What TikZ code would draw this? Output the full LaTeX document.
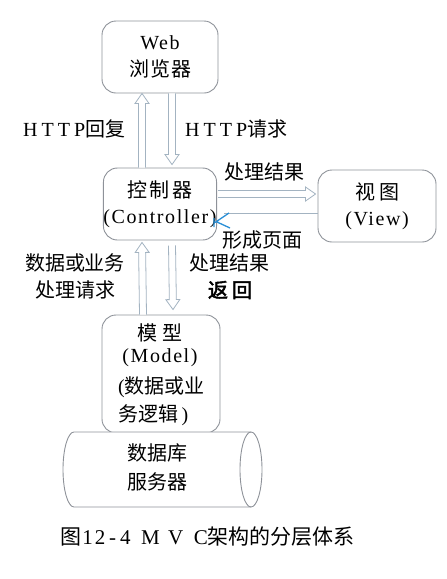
\documentclass[tikz,border=0pt]{standalone}
\usepackage{fontspec}
\setmainfont{Liberation Serif}
\newfontfamily\lat[LetterSpace=8]{Liberation Serif}
\newfontfamily\cjk{Noto Sans CJK SC}
\newfontfamily\cjkb[FakeBold=2.5]{Noto Sans CJK SC}
\usetikzlibrary{calc}
\definecolor{boxgray}{HTML}{8E9299}
\definecolor{arrgray}{HTML}{A3B3C1}
\definecolor{kblue}{HTML}{2A8FD6}
\newcommand\hw[1]{\makebox[12.6pt]{#1}}
\tikzset{
  box/.style={draw=boxgray, rounded corners=14pt, line width=0.9pt, align=center, inner sep=0pt,
    font=\fontsize{20}{26.5}\selectfont},
  lbl/.style={font=\fontsize{20}{27}\selectfont, inner sep=0pt, align=center},
  clbl/.style={font=\fontsize{20}{27}\selectfont\cjk, inner sep=0pt, align=center},
  harrow/.style={draw=arrgray, line width=0.8pt, fill=white,
    to path={let \p1=(\tikztostart), \p2=(\tikztotarget),
      \n1={atan2(\y2-\y1,\x2-\x1)}, \n2={veclen(\x2-\x1,\y2-\y1)} in
      ([shift={(\p1)},rotate=\n1]0pt,3.5pt) -- ([shift={(\p1)},rotate=\n1]{\n2-10pt},3.5pt)
      -- ([shift={(\p1)},rotate=\n1]{\n2-10pt},7pt) -- (\p2)
      -- ([shift={(\p1)},rotate=\n1]{\n2-10pt},-7pt) -- ([shift={(\p1)},rotate=\n1]{\n2-10pt},-3.5pt)
      -- ([shift={(\p1)},rotate=\n1]0pt,-3.5pt)}},
  thinarrow/.style={draw=arrgray, line width=0.9pt},
  kstroke/.style={draw=kblue, line width=1.3pt},
  cyl/.style={draw=boxgray, line width=0.9pt}
}
\begin{document}
\begin{tikzpicture}[x=1pt,y=-1pt]
\useasboundingbox (0,0) rectangle (447,579);

% boxes
\node[box, minimum width=116pt, minimum height=72pt] (web) at (160,57)
  {{\lat Web}\\{\cjk 浏\hspace{1pt}览\hspace{1pt}器}};
\node[box, minimum width=113pt, minimum height=72pt] (ctrl) at (160,204)
  {{\cjk 控\hspace{3pt}制\hspace{3pt}器}\\[-1pt]{\lat (Controller)}};
\node[box, minimum width=118pt, minimum height=72pt] (view) at (377,206)
  {{\cjk 视\hspace{4pt}图}\\[-1pt]{\lat (View)}};
\node[box, minimum width=118pt, minimum height=118pt] (model) at (161,374) {};

% model text
\node[clbl] (mt1) at (160,333) {模\hspace{5pt}型};
\node[lbl] (mt2) at (160,358) {\lat (Model)};
\node[lbl, anchor=west] (mt3) at (118,387) {({\cjk 数据或业}};
\node[lbl, anchor=west] (mt4) at (118,415) {{\cjk 务逻辑}\,)};

% database cylinder
\draw[cyl, fill=white] (251,432) -- (74,432) arc (270:90:11 and 37.5) -- (251,507);
\draw[cyl] (251,469.5) ellipse (11 and 37.5);
\node[clbl, font=\fontsize{20}{29}\selectfont\cjk] (db) at (157,467.5) {数据库\\服务器};

% hollow arrows
\draw[harrow] ([xshift=-18pt]ctrl.north) to ([xshift=-18pt]web.south);
\draw[harrow] ([xshift=12pt]web.south) to ([xshift=12pt,yshift=3pt]ctrl.north);
\draw[harrow] ([xshift=-18pt]model.north) to ([xshift=-18pt,yshift=-2pt]ctrl.south);
\draw[harrow] ([xshift=12pt,yshift=-5pt]ctrl.south) to ([xshift=12pt,yshift=5pt]model.north);
\draw[harrow] ([yshift=10pt,xshift=1pt]ctrl.east) to ([yshift=10pt,xshift=-2pt]ctrl.east -| view.west);

% thin return arrow with blue tip
\coordinate (kpt) at ([xshift=-3pt,yshift=-9pt]ctrl.east);
\draw[thinarrow] ([yshift=-9pt]ctrl.east -| view.west) -- ([xshift=10pt]kpt);
\draw[kstroke] ([yshift=-5pt]kpt) -- ([yshift=-14pt]kpt)
  ([xshift=1pt,yshift=-9.5pt]kpt) -- ([xshift=15pt,yshift=0pt]kpt)
  ([xshift=3pt,yshift=-9pt]kpt) -- ([xshift=16pt,yshift=-15pt]kpt);

% labels
\node[lbl, anchor=west] (l1) at (23,129) {H\hspace{4pt}T\hspace{4pt}T\hspace{4pt}P{\cjk 回复}};
\node[lbl, anchor=west] (l2) at (185,129) {H\hspace{4pt}T\hspace{4pt}T\hspace{4pt}P{\cjk 请求}};
\node[clbl, anchor=west] (l3) at (224,172) {处理结果};
\node[clbl, anchor=west] (l4) at (222,240) {形成页面};
\node[clbl] (l5) at (75,276.5) {数据或业务\\处理请求};
\node[clbl] (l6) at (229,263) {处理结果};
\node[lbl] (l7) at (230,290) {\cjkb 返\hspace{4pt}回};

% caption
\node[lbl, anchor=west, font=\fontsize{21}{25}\selectfont] (cap) at (60,537)
  {{\cjk 图}\hw{1}\hw{2}\hw{-}\hw{4}\hw{}\hw{M}\hw{}\hw{V}\hw{}\hw{C}{\cjk 架构的分层体系}};
\end{tikzpicture}
\end{document}
